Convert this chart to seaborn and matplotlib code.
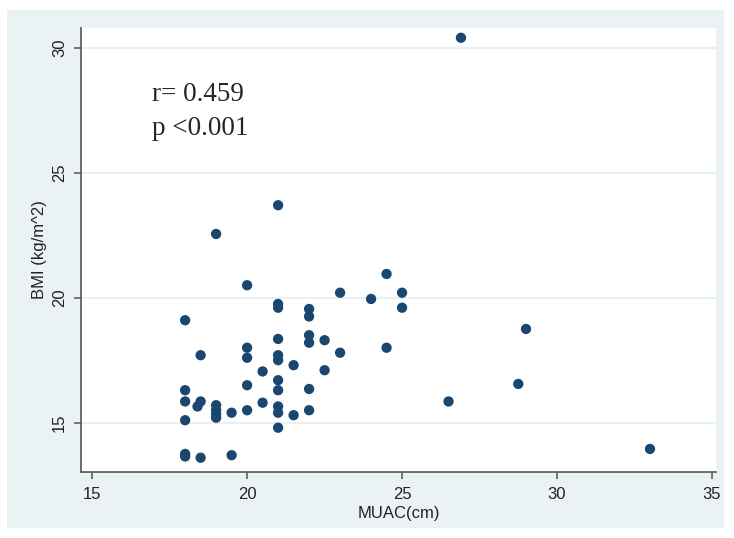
import pandas as pd
import numpy as np
import seaborn as sns
import matplotlib.pyplot as plt
from matplotlib.patches import Rectangle

# data
muac = [18, 18, 18, 18, 18, 18, 18.5, 18.4, 18.5, 18.5,
        19, 19, 19, 19, 19, 19.5, 19.5, 20, 20, 20,
        20, 20, 20.5, 20.5, 21, 21, 21, 21, 21, 21,
        21, 21, 21, 21, 21, 21.5, 21.5, 22, 22, 22,
        22, 22, 22, 22.5, 22.5, 23, 23, 24, 24.5, 24.5,
        25, 25, 26.9, 26.5, 28.75, 29, 33]
bmi = [16.3, 15.85, 15.1, 13.75, 13.65, 19.1, 13.6, 15.65, 15.85, 17.7,
       15.7, 15.5, 15.35, 15.2, 22.55, 15.4, 13.7, 15.5, 16.5, 17.6,
       18.0, 20.5, 17.05, 15.8, 16.7, 16.3, 15.65, 15.4, 14.8, 17.7,
       17.5, 18.35, 19.75, 19.6, 23.7, 17.3, 15.3, 19.55, 19.25, 18.5,
       18.2, 16.35, 15.5, 18.3, 17.1, 20.2, 17.8, 19.95, 20.95, 18.0,
       20.2, 19.6, 30.4, 15.85, 16.55, 18.75, 13.95]

x_ticks = [15, 20, 25, 30, 35]
y_ticks = [15, 20, 25, 30]
stats_lines = ["r= 0.459", "p <0.001"]

df = pd.DataFrame({"MUAC(cm)": muac, "BMI (kg/m^2)": bmi})

sns.set_style("white")
plt.rcParams["font.family"] = ["Liberation Sans", "DejaVu Sans"]

bg = "#eaf2f3"
navy = "#1a476f"

fig = plt.figure(figsize=(7.34, 5.38), dpi=100)
fig.patch.set_facecolor("white")
frame = Rectangle((7 / 734, 1 - 528 / 538), 717 / 734, 518.5 / 538,
                  transform=fig.transFigure, facecolor=bg,
                  edgecolor="none", zorder=-10)
fig.add_artist(frame)

ax = fig.add_axes([81 / 734, 1 - 471.7 / 538, (716 - 81) / 734, (471.7 - 28) / 538])
ax.set_zorder(5)
ax.set_facecolor("white")

sns.scatterplot(data=df, x="MUAC(cm)", y="BMI (kg/m^2)", ax=ax,
                color=navy, s=55, edgecolor="none", zorder=3)

ax.set_xlim(14.64, 35.13)
ax.set_ylim(13.04, 30.79)
ax.set_xticks(x_ticks)
ax.set_yticks(y_ticks)
ax.set_xticklabels([str(t) for t in x_ticks], fontsize=12, color="#222222")
ax.set_yticklabels([str(t) for t in y_ticks], fontsize=12, color="#222222",
                   rotation=90, va="center")

ax.grid(axis="y", color="#e4eef0", linewidth=1.2, zorder=0)
ax.grid(axis="x", visible=False)

for side in ["top", "right"]:
    ax.spines[side].set_visible(False)
for side in ["left", "bottom"]:
    ax.spines[side].set_color("#555555")
    ax.spines[side].set_linewidth(1.2)

ax.tick_params(axis="both", direction="out", length=5, width=1.1,
               color="#555555", left=True, bottom=True)
ax.tick_params(axis="x", pad=6)
ax.tick_params(axis="y", pad=5)

ax.set_xlabel("MUAC(cm)", fontsize=12, color="#222222", labelpad=3)
ax.set_ylabel("BMI (kg/m^2)", fontsize=12, color="#222222", labelpad=4)

ax.text(0.112, 0.849, stats_lines[0], transform=ax.transAxes, va="center",
        ha="left", fontsize=19.5, family=["Liberation Serif", "DejaVu Serif"])
ax.text(0.112, 0.774, stats_lines[1], transform=ax.transAxes, va="center",
        ha="left", fontsize=19.5, family=["Liberation Serif", "DejaVu Serif"])

fig.savefig("out.png", dpi=100)
